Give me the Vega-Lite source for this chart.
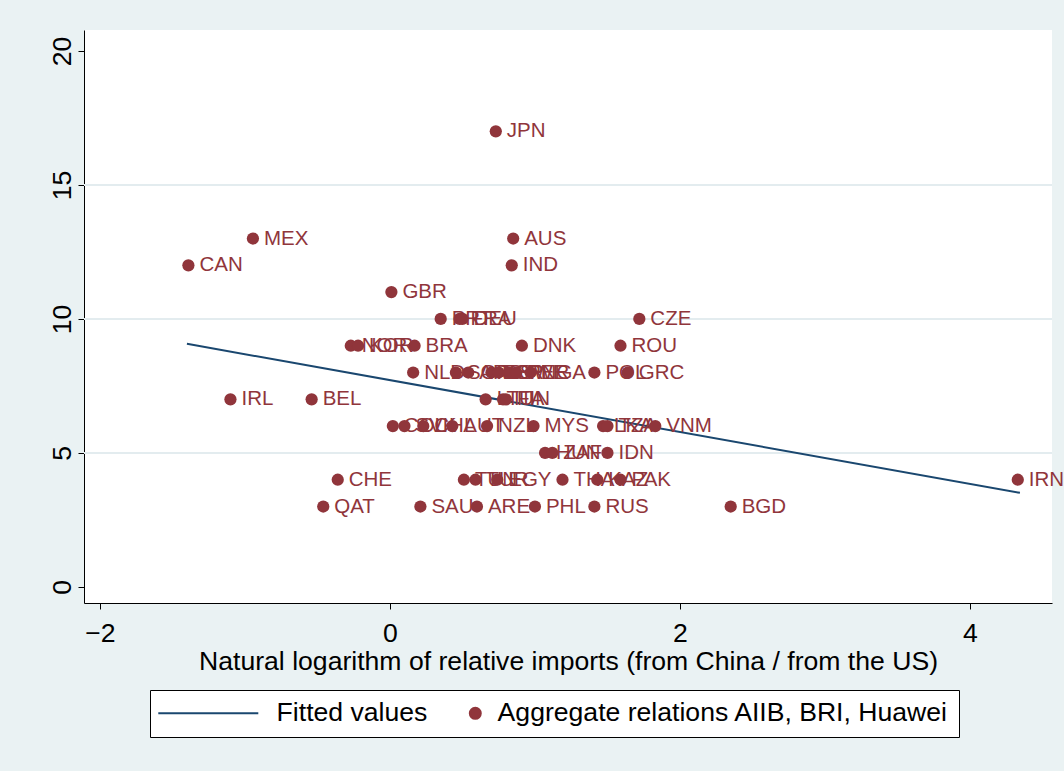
{
  "$schema": "https://vega.github.io/schema/vega-lite/v6.json",
  "width": 968,
  "height": 573,
  "autosize": {"type": "none"},
  "padding": {"left": 84, "top": 30, "right": 12, "bottom": 168},
  "background": "#EAF2F3",
  "config": {"view": {"fill": "white", "stroke": null}, "font": "Liberation Sans"},
  "datasets": {
    "pts": [
      {"code": "JPN", "x": 0.73, "y": 17},
      {"code": "MEX", "x": -0.945, "y": 13},
      {"code": "AUS", "x": 0.85, "y": 13},
      {"code": "CAN", "x": -1.39, "y": 12},
      {"code": "IND", "x": 0.84, "y": 12},
      {"code": "GBR", "x": 0.01, "y": 11},
      {"code": "PRT", "x": 0.35, "y": 10},
      {"code": "FRA", "x": 0.48, "y": 10},
      {"code": "DEU", "x": 0.5, "y": 10},
      {"code": "CZE", "x": 1.72, "y": 10},
      {"code": "NOR", "x": -0.27, "y": 9},
      {"code": "KOR", "x": -0.22, "y": 9},
      {"code": "BRA", "x": 0.17, "y": 9},
      {"code": "DNK", "x": 0.91, "y": 9},
      {"code": "ROU", "x": 1.59, "y": 9},
      {"code": "NLD", "x": 0.16, "y": 8},
      {"code": "SGP", "x": 0.455, "y": 8},
      {"code": "ARG", "x": 0.54, "y": 8},
      {"code": "ESP", "x": 0.7, "y": 8},
      {"code": "ISR", "x": 0.75, "y": 8},
      {"code": "SWE", "x": 0.82, "y": 8},
      {"code": "PER", "x": 0.87, "y": 8},
      {"code": "NGA", "x": 0.97, "y": 8},
      {"code": "POL", "x": 1.41, "y": 8},
      {"code": "GRC", "x": 1.64, "y": 8},
      {"code": "IRL", "x": -1.1, "y": 7},
      {"code": "BEL", "x": -0.54, "y": 7},
      {"code": "LTU", "x": 0.66, "y": 7},
      {"code": "ITA", "x": 0.78, "y": 7},
      {"code": "FIN", "x": 0.8, "y": 7},
      {"code": "COL", "x": 0.02, "y": 6},
      {"code": "SVK", "x": 0.1, "y": 6},
      {"code": "CHL", "x": 0.23, "y": 6},
      {"code": "AUT", "x": 0.43, "y": 6},
      {"code": "NZL", "x": 0.67, "y": 6},
      {"code": "MYS", "x": 0.99, "y": 6},
      {"code": "LKA", "x": 1.47, "y": 6},
      {"code": "TZA", "x": 1.5, "y": 6},
      {"code": "VNM", "x": 1.83, "y": 6},
      {"code": "HUN", "x": 1.07, "y": 5},
      {"code": "ZAF", "x": 1.12, "y": 5},
      {"code": "IDN", "x": 1.5, "y": 5},
      {"code": "CHE", "x": -0.36, "y": 4},
      {"code": "TUN", "x": 0.51, "y": 4},
      {"code": "TUR", "x": 0.59, "y": 4},
      {"code": "EGY", "x": 0.74, "y": 4},
      {"code": "THA", "x": 1.19, "y": 4},
      {"code": "KAZ", "x": 1.43, "y": 4},
      {"code": "PAK", "x": 1.59, "y": 4},
      {"code": "IRN", "x": 4.33, "y": 4},
      {"code": "QAT", "x": -0.46, "y": 3},
      {"code": "SAU", "x": 0.21, "y": 3},
      {"code": "ARE", "x": 0.6, "y": 3},
      {"code": "PHL", "x": 1.0, "y": 3},
      {"code": "RUS", "x": 1.41, "y": 3},
      {"code": "BGD", "x": 2.35, "y": 3}
    ],
    "fit": [{"x": -1.4, "y": 9.07}, {"x": 4.345, "y": 3.51}],
    "grid": [{"y": 5}, {"y": 10}, {"y": 15}]
  },
  "layer": [
    {
      "data": {"name": "grid"},
      "mark": {"type": "rule", "color": "#E3ECEF", "strokeWidth": 2},
      "encoding": {
        "y": {
          "field": "y", "type": "quantitative",
          "scale": {"domain": [-0.6, 20.78], "nice": false, "zero": false},
          "axis": {
            "values": [0, 5, 10, 15, 20], "grid": false, "title": null,
            "labelAngle": -90, "labelFontSize": 26.6, "labelColor": "black",
            "domainColor": "black", "tickColor": "black", "tickSize": 6, "labelPadding": 2,
            "labelAlign": "center", "labelBaseline": "bottom"
          }
        }
      }
    },
    {
      "data": {"name": "fit"},
      "mark": {"type": "line", "strokeWidth": 2},
      "encoding": {
        "x": {
          "field": "x", "type": "quantitative",
          "scale": {"domain": [-2.11, 4.566], "nice": false, "zero": false},
          "axis": {
            "values": [-2, 0, 2, 4], "format": "d", "grid": false,
            "title": "Natural logarithm of relative imports (from China / from the US)",
            "titleFontSize": 26.6, "titleFontWeight": "normal", "titleColor": "black",
            "labelFontSize": 26.6, "labelColor": "black", "domainColor": "black",
            "tickColor": "black", "tickSize": 6, "labelPadding": 11, "titlePadding": 2
          }
        },
        "y": {"field": "y", "type": "quantitative"},
        "color": {
          "datum": "Fitted values",
          "scale": {"domain": ["Fitted values", "Aggregate relations AIIB, BRI, Huawei"], "range": ["#1A476F", "#90353B"]},
          "legend": {
            "orient": "none", "legendX": 66, "legendY": 660, "direction": "horizontal",
            "title": null, "fillColor": "white", "strokeColor": "black", "padding": 10,
            "labelFontSize": 26.6, "labelColor": "black", "labelLimit": 1000,
            "symbolSize": 400, "labelOffset": 9, "columnPadding": 34,
            "encode": {
              "labels": {
                "update": {
                  "text": {"signal": "datum.value === 'Fitted values' ? 'Fitted values' : 'Aggregate relations AIIB, BRI, Huawei\u00a0\u00a0'"},
                  "dx": {"signal": "datum.value === 'Fitted values' ? 81 : 0"}
                }
              },
              "symbols": {
                "update": {
                  "shape": {"signal": "datum.value === 'Fitted values' ? 'M-1.5,0L8.5,0' : 'M-0.55,0A0.55,0.55,0,1,0,0.55,0A0.55,0.55,0,1,0,-0.55,0Z'"},
                  "fill": {"signal": "datum.value === 'Fitted values' ? 'transparent' : '#90353B'"},
                  "stroke": {"signal": "datum.value === 'Fitted values' ? '#1A476F' : '#90353B'"},
                  "strokeWidth": {"value": 2},
                  "opacity": {"value": 1}
                }
              }
            }
          }
        }
      }
    },
    {
      "data": {"name": "pts"},
      "mark": {"type": "circle", "size": 150, "opacity": 1},
      "encoding": {
        "x": {"field": "x", "type": "quantitative"},
        "y": {"field": "y", "type": "quantitative"},
        "color": {"datum": "Aggregate relations AIIB, BRI, Huawei"}
      }
    },
    {
      "data": {"name": "pts"},
      "mark": {"type": "text", "align": "left", "baseline": "middle", "dx": 11, "fontSize": 20.5, "color": "#90353B"},
      "encoding": {
        "x": {"field": "x", "type": "quantitative"},
        "y": {"field": "y", "type": "quantitative"},
        "text": {"field": "code"}
      }
    }
  ]
}
